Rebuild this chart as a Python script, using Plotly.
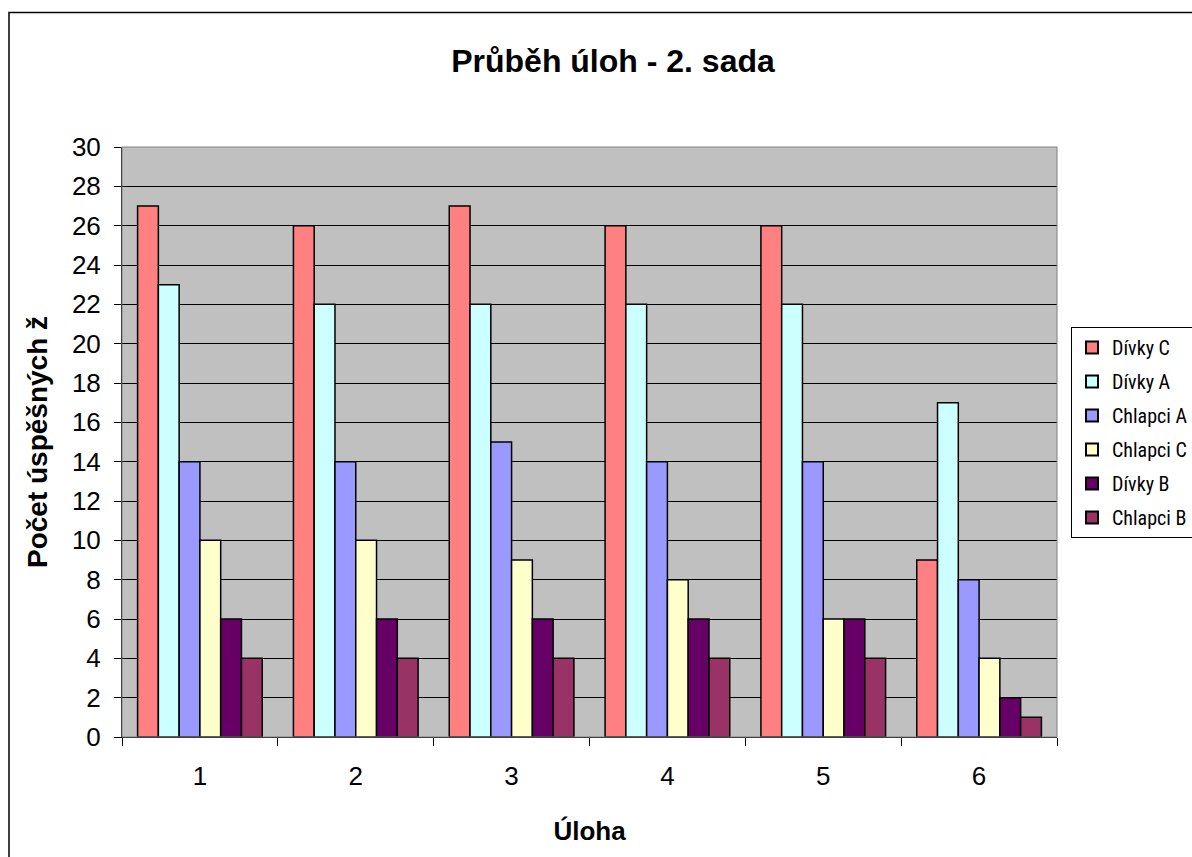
import plotly.graph_objects as go

# Task numbers (categories) and counts of successful pupils per group
ulohy = ["1", "2", "3", "4", "5", "6"]
divky_c = [27, 26, 27, 26, 26, 9]
divky_a = [23, 22, 22, 22, 22, 17]
chlapci_a = [14, 14, 15, 14, 14, 8]
chlapci_c = [10, 10, 9, 8, 6, 4]
divky_b = [6, 6, 6, 6, 6, 2]
chlapci_b = [4, 4, 4, 4, 4, 1]

series = [
    ("Dívky C", divky_c, "#FF8080"),
    ("Dívky A", divky_a, "#CCFFFF"),
    ("Chlapci A", chlapci_a, "#9999FF"),
    ("Chlapci C", chlapci_c, "#FFFFCC"),
    ("Dívky B", divky_b, "#660066"),
    ("Chlapci B", chlapci_b, "#993366"),
]

FONT = "Arial, 'Liberation Sans', sans-serif"
NARROW = "'Liberation Sans Narrow', 'Arial Narrow', 'Roboto Condensed', Arial, sans-serif"

fig = go.Figure()
for i, (name, vals, color) in enumerate(series):
    fig.add_trace(go.Bar(
        x=ulohy, y=vals, name=name, legendgroup=f"g{i}",
        marker=dict(color=color, line=dict(color="black", width=1.5)),
    ))

W, H = 1192, 857
L, R, T, B = 122, 1057, 147, 737
pw, ph = R - L, B - T

def px_x(x):
    return (x - L) / pw

def px_y(y):
    return (B - y) / ph

fig.update_layout(
    width=W, height=H,
    margin=dict(l=L, r=W - R, t=T, b=H - B, autoexpand=False),
    paper_bgcolor="white",
    plot_bgcolor="#C0C0C0",
    barmode="group", bargap=0.2, bargroupgap=0,
    font=dict(family=FONT, color="black"),
    title=dict(text="<b>Průběh úloh - 2. sada</b>", x=613 / W, xanchor="center",
               y=1 - 61 / H, yanchor="middle", font=dict(size=32, family=FONT)),
    xaxis=dict(
        title=dict(text="<b>Úloha</b>", font=dict(size=26), standoff=31),
        tickfont=dict(size=26), showgrid=False, ticklabelstandoff=16,
        showline=True, linecolor="black", linewidth=1,
        ticks="outside", tickson="boundaries", ticklen=8, tickcolor="black",
        mirror=False,
    ),
    yaxis=dict(
        title=dict(text="<b>Počet úspěšných ž</b>", font=dict(size=28), standoff=16),
        range=[0, 30], dtick=2, tickfont=dict(size=26), ticklabelstandoff=8,
        showgrid=True, gridcolor="black", gridwidth=1,
        showline=True, linecolor="black", linewidth=1,
        ticks="outside", ticklen=7, tickcolor="black", zeroline=False,
    ),
    legend=dict(
        x=px_x(1071), xanchor="left", y=px_y(327), yanchor="top",
        bgcolor="white", bordercolor="black", borderwidth=1,
        font=dict(size=20, family=NARROW), tracegroupgap=5,
        itemsizing="constant", traceorder="grouped", itemwidth=30,
    ),
    showlegend=True,
)

# Outer frame of the chart area and plot area border
fig.add_shape(type="rect", xref="paper", yref="paper",
              x0=px_x(9), x1=px_x(1205), y0=px_y(870), y1=px_y(12.5),
              line=dict(color="black", width=1.5), layer="below")
fig.add_shape(type="rect", xref="paper", yref="paper",
              x0=0, x1=1, y0=0, y1=1, line=dict(color="#808080", width=1))

fig.write_html("out.html")
